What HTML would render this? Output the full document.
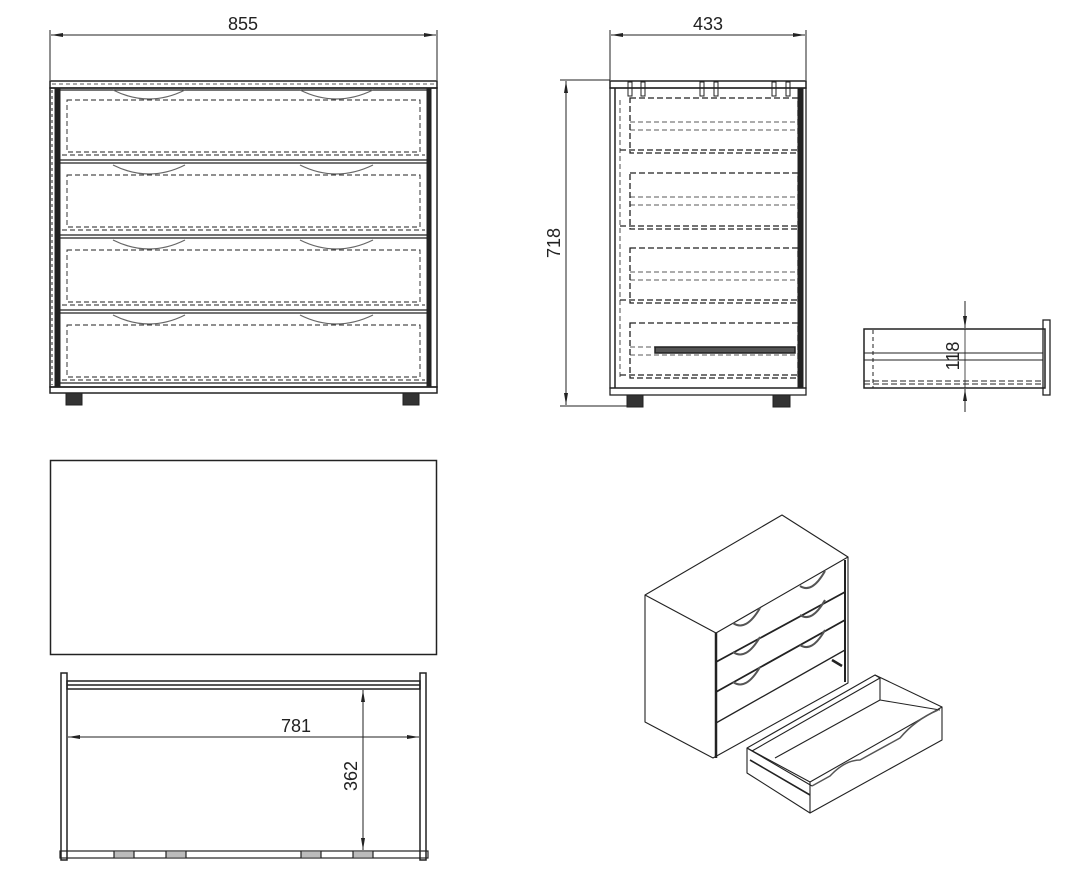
<!DOCTYPE html>
<html><head><meta charset="utf-8"><style>
html,body{margin:0;padding:0;background:#fff;}
svg{display:block;}
text{font-family:"Liberation Sans",sans-serif;fill:#222;}
</style></head><body>
<svg width="1077" height="872" viewBox="0 0 1077 872" xmlns="http://www.w3.org/2000/svg">
<defs>
<marker id="a" viewBox="0 0 12 6" refX="12" refY="3" markerWidth="12" markerHeight="6" orient="auto-start-reverse" markerUnits="userSpaceOnUse"><path d="M0,1 L12,3 L0,5z" fill="#222"/></marker>
</defs>
<g stroke="#222" fill="none" stroke-width="1">
<!-- ===== FRONT VIEW ===== -->
<line x1="50" y1="30" x2="50" y2="80"/><line x1="437" y1="30" x2="437" y2="80"/>
<line x1="51" y1="35" x2="436" y2="35" marker-start="url(#a)" marker-end="url(#a)"/>
<rect x="50" y="81" width="387" height="7" stroke-width="1.5"/>
<line x1="52" y1="84" x2="435" y2="84" stroke-dasharray="4,3" stroke-width="0.7"/>
<rect x="50" y="88" width="387" height="299" stroke-width="1.5"/>
<rect x="55" y="88" width="5" height="299" fill="#222"/>
<line x1="52" y1="90" x2="52" y2="385" stroke-dasharray="3,3"/>
<rect x="427" y="88" width="4" height="299" fill="#222"/>
<rect x="50" y="387" width="387" height="6" stroke-width="1.5"/>
<rect x="66" y="393" width="16" height="12" fill="#333"/>
<rect x="403" y="393" width="16" height="12" fill="#333"/>
<g stroke-width="1.3">
<line x1="60" y1="90" x2="427" y2="90"/>
<line x1="60" y1="160" x2="427" y2="160"/><line x1="60" y1="163" x2="427" y2="163"/>
<line x1="60" y1="235" x2="427" y2="235"/><line x1="60" y1="238" x2="427" y2="238"/>
<line x1="60" y1="310" x2="427" y2="310"/><line x1="60" y1="313" x2="427" y2="313"/>
<line x1="60" y1="383" x2="427" y2="383"/>
</g>
<g stroke-dasharray="5,3" stroke-width="0.9">
<rect x="67" y="100" width="353" height="52"/><line x1="62" y1="155" x2="425" y2="155"/>
<rect x="67" y="175" width="353" height="52"/><line x1="62" y1="230" x2="425" y2="230"/>
<rect x="67" y="250" width="353" height="52"/><line x1="62" y1="305" x2="425" y2="305"/>
<rect x="67" y="325" width="353" height="52"/><line x1="62" y1="380" x2="425" y2="380"/>
</g>
<g stroke="#666" stroke-width="1.2">
<path d="M113,90 Q149,108 185,90"/><path d="M300,90 Q336,108 373,90"/>
<path d="M113,165 Q149,183 185,165"/><path d="M300,165 Q336,183 373,165"/>
<path d="M113,240 Q149,258 185,240"/><path d="M300,240 Q336,258 373,240"/>
<path d="M113,315 Q149,333 185,315"/><path d="M300,315 Q336,333 373,315"/>
</g>
<!-- ===== SIDE VIEW ===== -->
<line x1="610" y1="30" x2="610" y2="80"/><line x1="806" y1="30" x2="806" y2="80"/>
<line x1="611" y1="35" x2="805" y2="35" marker-start="url(#a)" marker-end="url(#a)"/>
<line x1="560" y1="80" x2="610" y2="80"/><line x1="560" y1="406" x2="630" y2="406"/>
<line x1="566" y1="81" x2="566" y2="405" marker-start="url(#a)" marker-end="url(#a)"/>
<rect x="610" y="81" width="196" height="7" stroke-width="1.5"/>
<rect x="610" y="88" width="196" height="300" stroke-width="1.3"/>
<line x1="615" y1="88" x2="615" y2="388" stroke-width="1.5"/>
<rect x="798" y="88" width="5" height="300" fill="#222"/>
<rect x="610" y="388" width="196" height="7" stroke-width="1.3"/>
<rect x="627" y="395" width="16" height="12" fill="#333"/>
<rect x="773" y="395" width="17" height="12" fill="#333"/>
<g stroke-dasharray="6,3" stroke-width="1.3">
<rect x="630" y="98" width="168" height="55"/><line x1="620" y1="150" x2="798" y2="150"/>
<rect x="630" y="173" width="168" height="56"/><line x1="620" y1="226" x2="798" y2="226"/>
<rect x="630" y="248" width="168" height="55"/><line x1="620" y1="300" x2="798" y2="300"/>
<rect x="630" y="323" width="168" height="55"/><line x1="620" y1="375" x2="798" y2="375"/>
</g>
<g stroke-dasharray="5,3" stroke-width="0.8">
<line x1="630" y1="122" x2="798" y2="122"/><line x1="630" y1="130" x2="798" y2="130"/>
<line x1="630" y1="197" x2="798" y2="197"/><line x1="630" y1="205" x2="798" y2="205"/>
<line x1="630" y1="272" x2="798" y2="272"/><line x1="630" y1="280" x2="798" y2="280"/>
<line x1="630" y1="347" x2="798" y2="347"/><line x1="630" y1="355" x2="798" y2="355"/>
<line x1="620" y1="100" x2="620" y2="378"/>
</g>
<rect x="655" y="347" width="140" height="6" stroke-width="1.5" fill="#555"/>
<g stroke-width="1">
<rect x="628" y="82" width="4" height="14"/><rect x="641" y="82" width="4" height="14"/>
<rect x="700" y="82" width="4" height="14"/><rect x="714" y="82" width="4" height="14"/>
<rect x="772" y="82" width="4" height="14"/><rect x="786" y="82" width="4" height="14"/>
</g>
<!-- ===== SMALL DRAWER SIDE ===== -->
<rect x="864" y="329" width="181" height="59" stroke-width="1.5"/>
<rect x="1043" y="320" width="7" height="75" stroke-width="1.3"/>
<line x1="864" y1="353" x2="1043" y2="353"/><line x1="864" y1="360" x2="1043" y2="360"/>
<line x1="864" y1="384" x2="1043" y2="384" stroke-dasharray="6,3"/>
<line x1="864" y1="381" x2="1043" y2="381" stroke-dasharray="6,3"/>
<line x1="873" y1="330" x2="873" y2="388" stroke-dasharray="4,3"/>
<line x1="965" y1="301" x2="965" y2="328" marker-end="url(#a)"/>
<line x1="965" y1="412" x2="965" y2="389" marker-end="url(#a)"/>
<line x1="965" y1="329" x2="965" y2="388" stroke-width="0.8"/>
<!-- ===== TOP VIEW ===== -->
<rect x="50.5" y="460.5" width="386" height="194" stroke-width="1.5"/>
<!-- ===== BOTTOM DRAWER ===== -->
<rect x="61" y="673" width="6" height="187" stroke-width="1.5"/>
<rect x="420" y="673" width="6" height="187" stroke-width="1.5"/>
<rect x="67" y="681" width="353" height="8" stroke-width="1.5"/>
<line x1="67" y1="685" x2="420" y2="685" stroke-width="1.5"/>
<rect x="60" y="851" width="368" height="7" stroke-width="1.2"/>
<g fill="#bbb" stroke="none"><rect x="114" y="852" width="20" height="5"/><rect x="166" y="852" width="20" height="5"/><rect x="301" y="852" width="20" height="5"/><rect x="353" y="852" width="20" height="5"/></g>
<g stroke-width="1.2"><line x1="114" y1="851" x2="114" y2="858"/><line x1="134" y1="851" x2="134" y2="858"/><line x1="166" y1="851" x2="166" y2="858"/><line x1="186" y1="851" x2="186" y2="858"/><line x1="301" y1="851" x2="301" y2="858"/><line x1="321" y1="851" x2="321" y2="858"/><line x1="353" y1="851" x2="353" y2="858"/><line x1="373" y1="851" x2="373" y2="858"/></g>
<line x1="68" y1="737" x2="419" y2="737" marker-start="url(#a)" marker-end="url(#a)"/>
<line x1="363" y1="690" x2="363" y2="850" marker-start="url(#a)" marker-end="url(#a)"/>
<!-- ===== ISOMETRIC ===== -->
<g stroke-width="1.1" stroke-linejoin="round">
<polygon points="645,595 782,515 848,557 716,633"/>
<polyline points="645,595 645,722 713,758 848,683 848,557"/>
<line x1="716" y1="633" x2="716" y2="758" stroke-width="2.5"/>
<line x1="845" y1="560" x2="845" y2="682" stroke-width="2"/>
<line x1="716" y1="662" x2="845" y2="592" stroke-width="1.8"/>
<line x1="716" y1="692" x2="845" y2="620" stroke-width="1.8"/>
<line x1="716" y1="723" x2="845" y2="650" stroke-width="1.3"/>
<g stroke="#555" stroke-width="2">
<path d="M733,623 Q746,632 760,608"/><path d="M800,586 Q812,594 825,571"/>
<path d="M733,652 Q746,661 760,637"/><path d="M800,615 Q812,623 825,600"/>
<path d="M733,682 Q746,691 760,667"/><path d="M800,645 Q812,653 825,630"/>
</g>
<line x1="832" y1="660" x2="842" y2="666" stroke-width="2.5"/>
<!-- open drawer -->
<polygon points="810,782 942,707 942,740 810,813" fill="#fff"/>
<polygon points="747,748 875,675 880,678 752,751"/>
<polyline points="747,748 747,773 810,813"/>
<polyline points="747,748 810,782"/>
<line x1="750" y1="760" x2="810" y2="795" stroke-width="1.6"/>
<line x1="752" y1="751" x2="812" y2="786"/>
<polyline points="875,675 942,707"/>
<polyline points="880,678 880,700 940,710"/>
<line x1="775" y1="758" x2="880" y2="700"/>
<path d="M812,786 L830,776 Q845,760 860,760 L900,738 Q915,720 938,710" stroke="#555" stroke-width="1.5"/>
</g>
</g>
<text x="243" y="30" font-size="18" text-anchor="middle">855</text>
<text x="708" y="30" font-size="18" text-anchor="middle">433</text>
<text x="0" y="0" font-size="18" text-anchor="middle" transform="translate(560,243) rotate(-90)">718</text>
<text x="0" y="0" font-size="18" text-anchor="middle" transform="translate(959,356) rotate(-90)">118</text>
<text x="296" y="732" font-size="18" text-anchor="middle">781</text>
<text x="0" y="0" font-size="18" text-anchor="middle" transform="translate(357,776) rotate(-90)">362</text>
</svg>
</body></html>
